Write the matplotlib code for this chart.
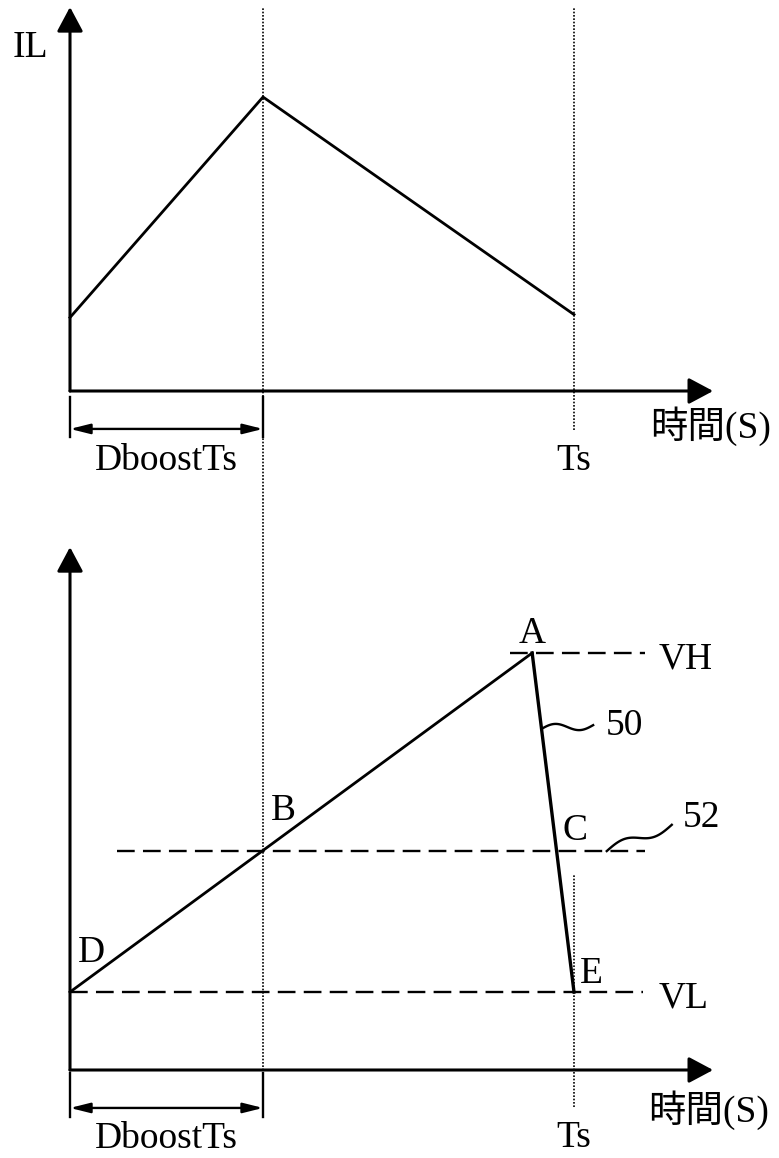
import numpy as np
import matplotlib.pyplot as plt

plt.rcParams['font.family'] = ['Liberation Serif', 'Noto Sans CJK TC']
plt.rcParams['font.size'] = 27

# switching period and on-time (time in units of Ts)
TS = 1.0
D_BOOST = 0.383
T_PEAK = 0.917

# inductor current, one switching period
t_il = [0.0, D_BOOST, TS]
il = [0.25, 1.0, 0.26]

# capacitor voltage ramp D -> A -> E
VH, V52, VL = 1.0, 0.525, 0.187
t_v = [0.0, T_PEAK, TS]
v = [VL, VH, VL]

# dashed reference levels: value, start, end
level_vals = [VH, V52, VL]
level_start = [0.873, 0.093, 0.0]
level_end = [1.141, 1.141, 1.137]

W, H = 779, 1158
X0, PX_T = 70, 504

fig = plt.figure(figsize=(W / 100, H / 100), dpi=100)


def make_axes(top_px, bottom_px, zero_px, px_unit):
    ax = fig.add_axes([0, 1 - bottom_px / H, 1, (bottom_px - top_px) / H])
    ax.set_xlim(-X0 / PX_T, (W - X0) / PX_T)
    ax.set_ylim(-(bottom_px - zero_px) / px_unit, (zero_px - top_px) / px_unit)
    ax.axis('off')
    return ax


def axis_arrows(ax, x_tip, y_tip):
    style = dict(arrowstyle='-|>,head_length=0.75,head_width=0.4', mutation_scale=20,
                 lw=2.2, color='black', shrinkA=0, shrinkB=0)
    ax.annotate('', xy=(x_tip, 0), xytext=(0, 0), arrowprops=style)
    ax.annotate('', xy=(0, y_tip), xytext=(0, 0), arrowprops=style)


def span_arrow(ax, y, y_top, y_bot):
    for t in (0, D_BOOST):
        ax.plot([t, t], [y_top, y_bot], color='black', lw=1.7)
    ax.annotate('', xy=(D_BOOST, y), xytext=(0, y),
                arrowprops=dict(arrowstyle='<|-|>,head_length=1.0,head_width=0.25',
                                mutation_scale=12, lw=1.7, color='black',
                                shrinkA=0, shrinkB=0))


def wave(ax, x0, y0, x1, y1, amp):
    s = np.linspace(0, 1, 60)
    ax.plot(x0 + s * (x1 - x0), y0 + s * (y1 - y0) + amp * np.sin(2 * np.pi * s),
            color='black', lw=1.7)


dot = dict(color='black', lw=1.2, linestyle=(0, (1, 1)))

# ---- IL waveform ----
ax1 = make_axes(0, 500, 391, 294)
ax1.plot([D_BOOST, D_BOOST], [ax1.get_ylim()[0], 1.303], **dot)
ax1.plot([TS, TS], [-0.133, 1.303], **dot)
axis_arrows(ax1, 1.276, 1.306)
ax1.plot(t_il, il, color='black', lw=2.0)
span_arrow(ax1, -0.129, -0.020, -0.156)
ax1.text(-0.079, 1.136, 'IL', ha='center', va='baseline')
ax1.text(D_BOOST / 2, -0.269, 'DboostTs', ha='center', va='baseline')
ax1.text(TS, -0.269, 'Ts', ha='center', va='baseline')
ax1.text(1.270, -0.160, '時間(S)', ha='center', va='baseline')

# ---- voltage waveform ----
ax2 = make_axes(500, 1158, 1070, 417)
ax2.plot([D_BOOST, D_BOOST], [-0.113, ax2.get_ylim()[1]], **dot)
ax2.plot([TS, TS], [-0.089, 0.470], **dot)
for val, a, b in zip(level_vals, level_start, level_end):
    ax2.plot([a, b], [val, val], color='black', lw=1.7, dashes=(7.5, 3.5))
axis_arrows(ax2, 1.276, 1.254)
ax2.plot(t_v[:2], v[:2], color='black', lw=2.0)
ax2.plot(t_v[1:], v[1:], color='black', lw=2.4)
span_arrow(ax2, -0.091, -0.007, -0.113)

# reference numerals with wavy leaders
t50 = T_PEAK + (TS - T_PEAK) * (VH - 0.818) / (VH - VL)
wave(ax2, t50, 0.818, 1.038, 0.827, 0.0096)
wave(ax2, 1.065, V52, 1.194, 0.588, 0.012)

ax2.text(T_PEAK, 1.024, 'A', ha='center', va='baseline')
ax2.text(1.167, 0.964, 'VH', ha='left', va='baseline')
ax2.text(1.063, 0.803, '50', ha='left', va='baseline')
ax2.text(1.002, 0.552, 'C', ha='center', va='baseline')
ax2.text(1.216, 0.583, '52', ha='left', va='baseline')
ax2.text(0.423, 0.600, 'B', ha='center', va='baseline')
ax2.text(0.042, 0.259, 'D', ha='center', va='baseline')
ax2.text(1.034, 0.209, 'E', ha='center', va='baseline')
ax2.text(1.167, 0.149, 'VL', ha='left', va='baseline')
ax2.text(1.266, -0.125, '時間(S)', ha='center', va='baseline')
ax2.text(TS, -0.185, 'Ts', ha='center', va='baseline')
ax2.text(D_BOOST / 2, -0.187, 'DboostTs', ha='center', va='baseline')

fig.savefig('out.png', dpi=100)
